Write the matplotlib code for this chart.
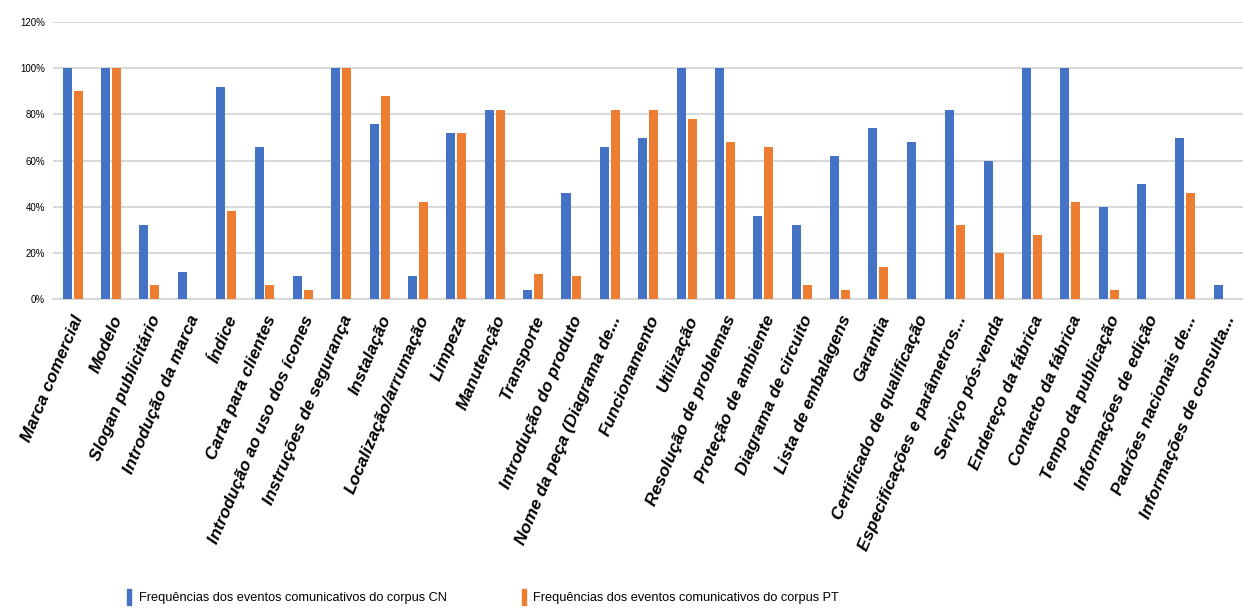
import numpy as np
import matplotlib.pyplot as plt
from matplotlib.patches import Patch
from matplotlib.ticker import PercentFormatter

categories = [
    'Marca comercial', 'Modelo', 'Slogan publicitário', 'Introdução da marca',
    'Índice', 'Carta para clientes', 'Introdução ao uso dos ícones',
    'Instruções de segurança', 'Instalação', 'Localização/arrumação',
    'Limpeza', 'Manutenção', 'Transporte', 'Introdução do produto',
    'Nome da peça (Diagrama de...', 'Funcionamento', 'Utilização',
    'Resolução de problemas', 'Proteção de ambiente', 'Diagrama de circuito',
    'Lista de embalagens', 'Garantia', 'Certificado de qualificação',
    'Especificações e parâmetros...', 'Serviço pós-venda', 'Endereço da fábrica',
    'Contacto da fábrica', 'Tempo da publicação', 'Informações de edição',
    'Padrões nacionais de...', 'Informações de consulta...',
]
cn = [100, 100, 32, 12, 92, 66, 10, 100, 76, 10, 72, 82, 4, 46, 66, 70, 100,
      100, 36, 32, 62, 74, 68, 82, 60, 100, 100, 40, 50, 70, 6]
pt = [90, 100, 6, 0, 38, 6, 4, 100, 88, 42, 72, 82, 11, 10, 82, 82, 78,
      68, 66, 6, 4, 14, 0, 32, 20, 28, 42, 4, 0, 46, 0]
series_labels = ['Frequências dos eventos comunicativos do corpus CN',
                 'Frequências dos eventos comunicativos do corpus PT']

blue = '#4472C4'
orange = '#ED7D31'
font = ['Liberation Sans', 'DejaVu Sans']

fig = plt.figure(figsize=(12.43, 6.12), dpi=100)
ax = fig.add_axes([0.043, 0.511, 0.957, 0.453])

x = np.arange(len(categories))
w = 0.235
ax.bar(x - 0.143, cn, width=w, color=blue, zorder=3)
ax.bar(x + 0.143, pt, width=w, color=orange, zorder=3)

ax.set_xlim(-0.5, len(categories) - 0.5)
ax.set_ylim(0, 120)
ax.set_yticks(np.arange(0, 121, 20))
ax.yaxis.set_major_formatter(PercentFormatter(decimals=0))
ax.grid(axis='y', color='#d9d9d9', linewidth=1.5, zorder=0)
for s in ['top', 'right', 'left']:
    ax.spines[s].set_visible(False)
ax.spines['bottom'].set_color('#d9d9d9')
ax.spines['bottom'].set_linewidth(1.5)
ax.tick_params(axis='both', length=0)
ax.tick_params(axis='y', labelsize=7, pad=6)
for lab in ax.get_yticklabels():
    lab.set_family(font)

ax.set_xticks(x)
ax.set_xticklabels(categories, rotation=67, ha='right', rotation_mode='anchor',
                   fontsize=12.5, fontstyle='italic', fontweight='bold', family=font)
ax.tick_params(axis='x', pad=10)

handles = [Patch(color=blue), Patch(color=orange)]
fig.legend(handles, series_labels, loc='lower left', bbox_to_anchor=(0.093, -0.008),
           ncol=2, frameon=False, handlelength=0.3, handleheight=1.6,
           handletextpad=0.6, columnspacing=5.9,
           prop={'family': font, 'size': 9.2})

fig.savefig('out.png', dpi=100)
